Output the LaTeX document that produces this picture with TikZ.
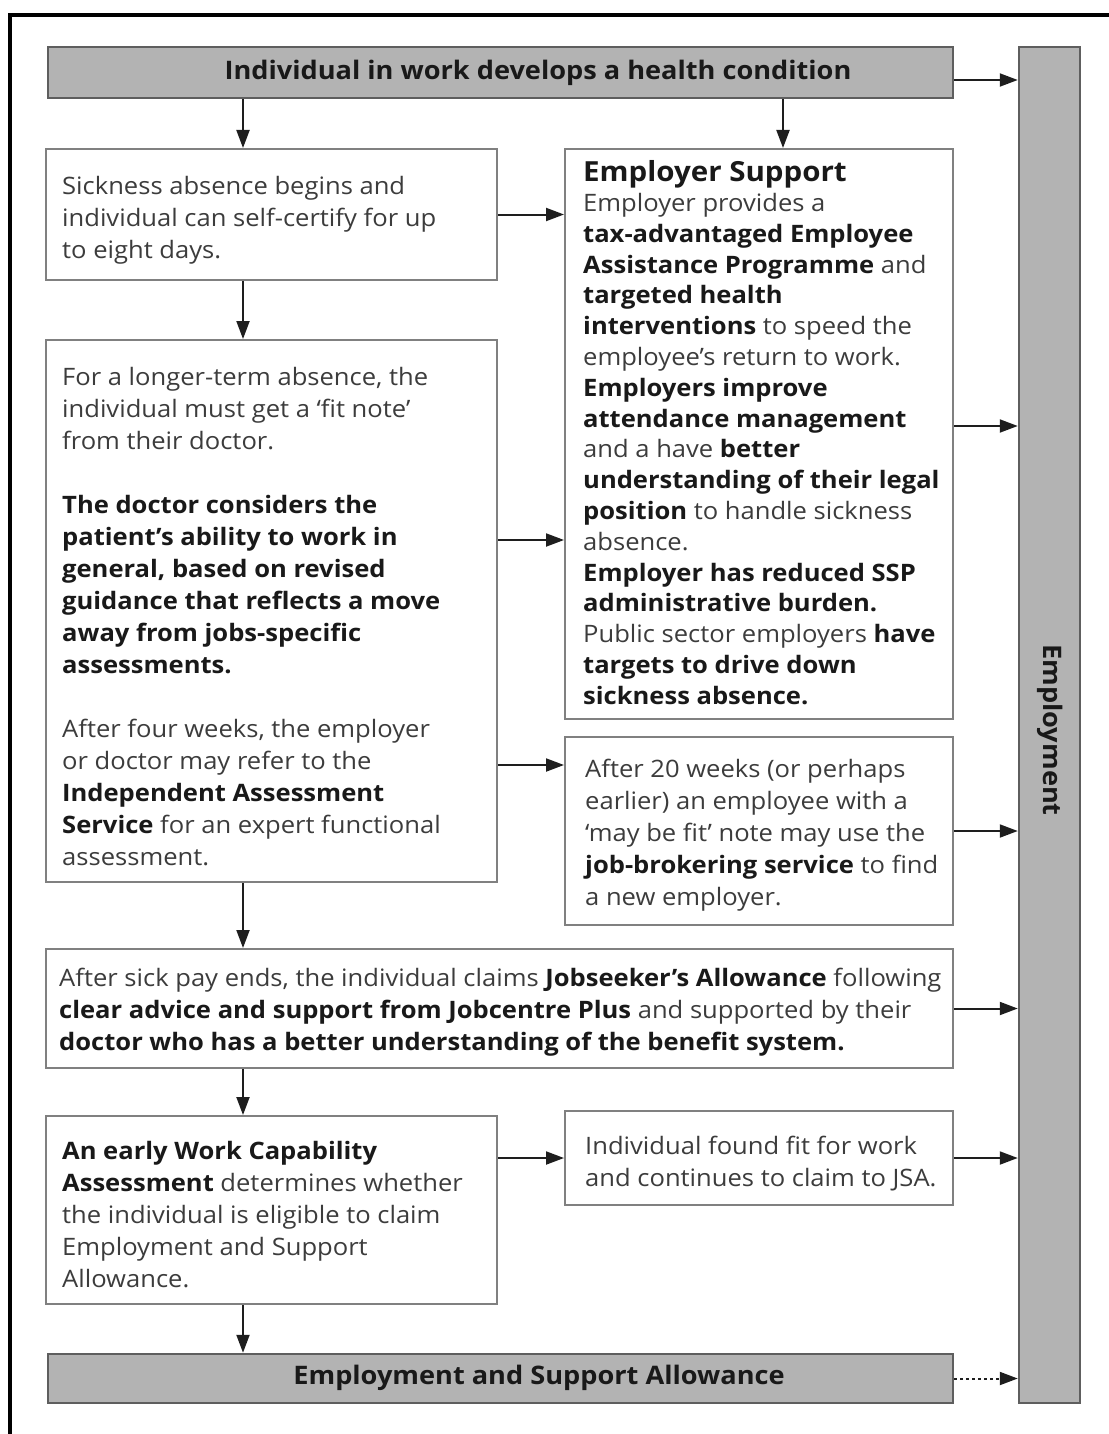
\documentclass[tikz,border=0pt]{standalone}
\usepackage{fontspec}
\setmainfont{Open Sans}[FakeStretch=1.065]
\usetikzlibrary{arrows.meta,fit}
\definecolor{barfill}{HTML}{B3B3B3}
\definecolor{barline}{HTML}{5E5E5E}
\definecolor{boxline}{HTML}{808080}
\definecolor{txtgray}{HTML}{3C3C3C}
\definecolor{arrcol}{HTML}{1E1E1E}
\newcommand\bt[1]{{\bfseries\color{black!90}#1}}
\tikzset{
  box/.style={draw=boxline, line width=2pt, fill=white, inner sep=0pt},
  bar/.style={draw=barline, line width=2.5pt, fill=barfill, inner sep=0pt},
  txt/.style={anchor=north west, inner sep=0pt, align=left, text=txtgray, font=\fontsize{24}{32}\selectfont},
  emptxt/.style={anchor=north west, inner sep=0pt, align=left, text=txtgray, font=\fontsize{24}{30.8}\selectfont},
  bartxt/.style={inner sep=0pt, text=black!90, font=\fontsize{25.5}{30}\selectfont\bfseries},
  arr/.style={draw=arrcol, line width=2pt, -{Triangle[length=18pt,width=13pt]}},
  dotarr/.style={draw=arrcol, line width=2pt, dash pattern=on 3pt off 3pt, -{Triangle[length=18pt,width=13pt]}},
}
\begin{document}
\begin{tikzpicture}[x=1pt,y=-1pt]
\useasboundingbox (0,0) rectangle (1108,1434);
\fill[white] (0,0) rectangle (1108,1434);
% outer frame (top and left visible)
\draw[line width=4.5pt, black] (10,1440) -- (10,15) -- (1115,15);

% coordinates for columns and rows
\coordinate (c1) at (243,0);
\coordinate (c2) at (783,0);
\coordinate (r0) at (0,80);
\coordinate (r1) at (0,426);
\coordinate (r2) at (0,540);
\coordinate (r3) at (0,765);

% bars
\node[bar, fit={(48,47) (953,98)}] (top) {};
\node[bar, fit={(1019,47) (1080,1403)}] (employ) {};
\node[bar, fit={(48,1354) (953,1403)}] (esa) {};
\node[bartxt] (toptxt) at (538,73) {Individual in work develops a health condition};
\node[bartxt] (esatxt) at (539,1378) {Employment and Support Allowance};
\node[bartxt, rotate=-90] (employtxt) at (1050,730) {Employment};

% boxes
\node[box, fit={(46,149) (497,280)}] (a) {};
\node[box, fit={(565,149) (953,719)}] (sup) {};
\node[box, fit={(46,340) (497,882)}] (b) {};
\node[box, fit={(565,737) (953,925)}] (c) {};
\node[box, fit={(46,949) (953,1068)}] (d) {};
\node[box, fit={(46,1116) (497,1304)}] (e) {};
\node[box, fit={(565,1111) (953,1205)}] (f) {};

% texts
\node[txt] (atxt) at (62,176) {Sickness absence begins and\\individual can self-certify for up\\to eight days.};

\node[anchor=north west, inner sep=0pt, text=black!90, font=\fontsize{27.7}{32}\selectfont\bfseries] (suptitle) at (583,160) {Employer Support};
\node[emptxt] (suptxt) at (583,193) {Employer provides a\\
\bt{tax-advantaged Employee}\\
\bt{Assistance Programme} and\\
\bt{targeted health}\\
\bt{interventions} to speed the\\
employee’s return to work.\\
\bt{Employers improve}\\
\bt{attendance management}\\
and a have \bt{better}\\
\bt{understanding of their legal}\\
\bt{position} to handle sickness\\
absence.\\
\bt{Employer has reduced SSP}\\
\bt{administrative burden.}\\
Public sector employers \bt{have}\\
\bt{targets to drive down}\\
\bt{sickness absence.}};

\node[txt] (btxt) at (62,367) {For a longer-term absence, the\\
individual must get a ‘fit note’\\
from their doctor.\\[32pt]
\bt{The doctor considers the}\\
\bt{patient’s ability to work in}\\
\bt{general, based on revised}\\
\bt{guidance that reflects a move}\\
\bt{away from jobs-specific}\\
\bt{assessments.}\\[32pt]
After four weeks, the employer\\
or doctor may refer to the\\
\bt{Independent Assessment}\\
\bt{Service} for an expert functional\\
assessment.};

\node[txt] (ctxt) at (585,759) {After 20 weeks (or perhaps\\
earlier) an employee with a\\
‘may be fit’ note may use the\\
\bt{job-brokering service} to find\\
a new employer.};

\node[txt] (dtxt) at (59,968) {After sick pay ends, the individual claims \bt{Jobseeker’s Allowance} following\\
\bt{clear advice and support from Jobcentre Plus} and supported by their\\
\bt{doctor who has a better understanding of the benefit system.}};

\node[txt] (etxt) at (62,1141) {\bt{An early Work Capability}\\
\bt{Assessment} determines whether\\
the individual is eligible to claim\\
Employment and Support\\
Allowance.};

\node[txt] (ftxt) at (585,1136) {Individual found fit for work\\
and continues to claim to JSA.};

% vertical arrows
\draw[arr] (top.south -| c1) -- (a.north -| c1);
\draw[arr] (top.south -| c2) -- (sup.north -| c2);
\draw[arr] (a.south -| c1) -- (b.north -| c1);
\draw[arr] (b.south -| c1) -- (d.north -| c1);
\draw[arr] (d.south -| c1) -- (e.north -| c1);
\draw[arr] (e.south -| c1) -- (esa.north -| c1);

% horizontal arrows
\draw[arr] (top.east |- r0) -- (employ.west |- r0);
\draw[arr] (a.east) -- (sup.west |- a.east);
\draw[arr] (sup.east |- r1) -- (employ.west |- r1);
\draw[arr] (b.east |- r2) -- (sup.west |- r2);
\draw[arr] (b.east |- r3) -- (c.west |- r3);
\draw[arr] (c.east) -- (employ.west |- c.east);
\draw[arr] (d.east) -- (employ.west |- d.east);
\draw[arr] (e.east |- f.west) -- (f.west);
\draw[arr] (f.east) -- (employ.west |- f.east);
\draw[dotarr] (esa.east) -- (employ.west |- esa.east);
\end{tikzpicture}
\end{document}
